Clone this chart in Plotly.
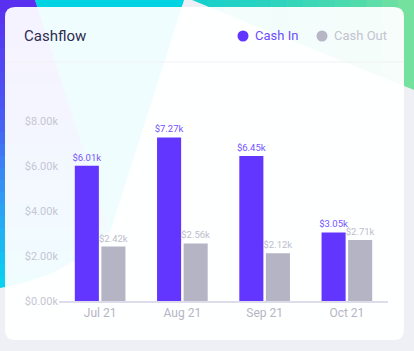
import plotly.graph_objects as go

# ---- data ----
months = ["Jul 21", "Aug 21", "Sep 21", "Oct 21"]
series_names = ["Cash In", "Cash Out"]
cash_in_k = [6.01, 7.27, 6.45, 3.05]
cash_out_k = [2.42, 2.56, 2.12, 2.71]
tick_vals = [0, 2, 4, 6, 8]
tick_labels = ["$0.00k", "$2.00k", "$4.00k", "$6.00k", "$8.00k"]
title_text = "Cashflow"

# ---- layout geometry (pixels) ----
FW, FH = 414, 351
ML, MR, MT, MB = 59, 26, 100, 50
PW, PH = FW - ML - MR, FH - MT - MB

def px(x):
    return (x - ML) / PW

def py(y):
    return (FH - MB - y) / PH

def path(points):
    return "M " + " L ".join(f"{px(x):.5f},{py(y):.5f}" for x, y in points) + " Z"

def rounded_rect(x0, y0, x1, y1, r):
    p = lambda x, y: f"{px(x):.5f},{py(y):.5f}"
    return (f"M {p(x0 + r, y0)} L {p(x1 - r, y0)} Q {p(x1, y0)} {p(x1, y0 + r)} "
            f"L {p(x1, y1 - r)} Q {p(x1, y1)} {p(x1 - r, y1)} "
            f"L {p(x0 + r, y1)} Q {p(x0, y1)} {p(x0, y1 - r)} "
            f"L {p(x0, y0 + r)} Q {p(x0, y0)} {p(x0 + r, y0)} Z")

def hex2rgb(h):
    h = h.lstrip("#")
    return [int(h[i:i + 2], 16) for i in (0, 2, 4)]

def grad(stops, t):
    for (t0, c0), (t1, c1) in zip(stops, stops[1:]):
        if t0 <= t <= t1:
            u = (t - t0) / (t1 - t0) if t1 > t0 else 0
            a, b = hex2rgb(c0), hex2rgb(c1)
            return "rgb(%d,%d,%d)" % tuple(round(a[i] + (b[i] - a[i]) * u) for i in range(3))
    return stops[-1][1]

def interp(pts, y):
    for (ya, xa), (yb, xb_) in zip(pts, pts[1:]):
        if ya <= y <= yb:
            return xa + (xb_ - xa) * (y - ya) / (yb - ya)
    return pts[-1][1]

shapes = []
def add_path(pts, color, opacity=1.0):
    shapes.append(dict(type="path", xref="paper", yref="paper", path=path(pts),
                       fillcolor=color, line=dict(width=0), layer="below", opacity=opacity))

# teal/green triangle at top right (horizontal gradient)
def f(x):
    return 90 * (x - 192) / (414 - 192)
teal_stops = [(192, "#14d0cc"), (280, "#2ed4bd"), (360, "#52dbab"), (414, "#7ae29d")]
n = 14
for i in range(n):
    a = 192 + (414 - 192) * i / n
    b = 192 + (414 - 192) * (i + 1) / n + (0.6 if i < n - 1 else 0)
    add_path([(a, 0), (b, 0), (b, f(b)), (a, f(a))], grad(teal_stops, (a + b) / 2))

# cyan wedge
add_path([(35, 0), (184, 0), (110, 232)], "#00d3e2")

# left purple -> blue -> cyan region (vertical gradient)
boundary = [(0, 35), (232, 110), (258, 80), (274, 50), (284, 20), (288, 0)]
left_stops = [(0, "#5b2ef0"), (110, "#4a58f3"), (200, "#309cf4"), (288, "#06d5ef")]
m = 24
for i in range(m):
    y0 = 288 * i / m
    y1 = min(288 * (i + 1) / m + (0.6 if i < m - 1 else 0), 288)
    pts = [(0, y0), (interp(boundary, y0), y0)]
    for by, bx in boundary:
        if y0 < by < y1:
            pts.append((bx, by))
    pts += [(interp(boundary, y1), y1), (0, y1)]
    add_path(pts, grad(left_stops, (y0 + y1) / 2))

# card
shapes.append(dict(type="path", xref="paper", yref="paper",
                   path=rounded_rect(5, 7, 404, 340, 10),
                   fillcolor="rgba(255,255,255,0.94)", line=dict(width=0), layer="below"))
# header separator
shapes.append(dict(type="line", xref="paper", yref="paper", x0=px(5), x1=px(404),
                   y0=py(62), y1=py(62), line=dict(color="#f1f1f6", width=1), layer="below"))

colors = ["#6236ff", "#b4b4c5"]
text_colors = ["#7354ff", "#bdbdcc"]
legend_text_colors = ["#6b4dff", "#c3c3d1"]
legend_dot_colors = ["#6236ff", "#b6b6c6"]

fig = go.Figure()
for name, vals, col, tcol in zip(series_names, [cash_in_k, cash_out_k], colors, text_colors):
    fig.add_trace(go.Bar(
        x=months, y=vals, name=name, marker=dict(color=col, line=dict(width=0)),
        texttemplate="$%{y:.2f}k", textposition="outside", constraintext="none",
        textfont=dict(family="Roboto", size=9.5, color=tcol),
        cliponaxis=False, showlegend=False,
    ))

# title + legend (dots + labels)
annotations = [dict(text=title_text, xref="paper", yref="paper", x=px(22), y=py(36),
                    xanchor="left", yanchor="middle", showarrow=False,
                    font=dict(family="Roboto", size=15, color="#2e2c50"))]
for name, dot_x, dcol, tcol in zip(series_names, [243, 322], legend_dot_colors, legend_text_colors):
    r = 5.5
    shapes.append(dict(type="circle", xref="paper", yref="paper",
                       x0=px(dot_x - r), x1=px(dot_x + r), y0=py(36 - r), y1=py(36 + r),
                       fillcolor=dcol, line=dict(width=0), layer="above"))
    annotations.append(dict(text=name, xref="paper", yref="paper", x=px(dot_x + 10), y=py(36),
                            xanchor="left", yanchor="middle", showarrow=False,
                            font=dict(family="Roboto", size=13, color=tcol)))

fig.update_layout(
    width=FW, height=FH,
    margin=dict(l=ML, r=MR, t=MT, b=MB, pad=0),
    paper_bgcolor="#eff0f5", plot_bgcolor="rgba(0,0,0,0)",
    barmode="group", bargap=0.354, bargroupgap=0.094,
    shapes=shapes, annotations=annotations,
    font=dict(family="Roboto"),
    xaxis=dict(showgrid=False, zeroline=False, showline=True, linecolor="#dcdcea", linewidth=1.5,
               ticks="", tickfont=dict(family="Roboto", size=12, color="#b5b5c5"), fixedrange=True),
    yaxis=dict(range=[0, PH / 22.5], tickvals=tick_vals, ticktext=tick_labels,
               showgrid=False, zeroline=False, showline=False, ticks="",
               tickfont=dict(family="Roboto", size=11, color="#c6c6d4"), fixedrange=True),
)

fig.write_html("out.html", config={"displayModeBar": False})
